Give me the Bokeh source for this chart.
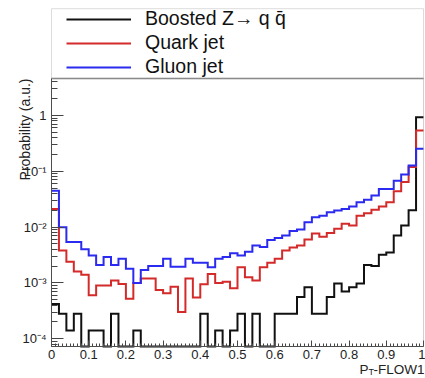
import numpy as np
from bokeh.plotting import figure
from bokeh.models import (Range1d, FixedTicker, CustomJSTickFormatter,
                          Legend, LegendItem, Label, BoxAnnotation)
from bokeh.embed import file_html
from bokeh.resources import INLINE

# ---- data: 50 bins of width 0.02 on [0, 1] ----
bin_edges = np.linspace(0.0, 1.0, 51)

boosted_z = [4.2e-4, 2.8e-4, 1.4e-4, 2.8e-4, 0, 1.4e-4, 1.4e-4, 0, 2.8e-4, 0,
             0, 1.4e-4, 0, 0, 0, 0, 0, 0, 0, 0,
             2.8e-4, 0, 1.4e-4, 0, 1.4e-4, 2.8e-4, 0, 2.8e-4, 0, 0,
             2.8e-4, 2.8e-4, 2.8e-4, 5.6e-4, 8.4e-4, 2.8e-4, 2.8e-4, 5.6e-4, 9.8e-4, 7.0e-4,
             8.4e-4, 9.8e-4, 2.1e-3, 2.0e-3, 3.2e-3, 3.5e-3, 7.1e-3, 1.07e-2, 2.0e-2, 0.93]

quark_jet = [0.021, 0.0038, 0.0024, 0.0016, 0.0014, 0.0006, 0.0009, 0.0009, 0.0011, 0.00096,
             0.00052, 0.0010, 0.0012, 0.0012, 0.00075, 0.00065, 0.00085, 0.0003, 0.0012, 0.00055,
             0.00095, 0.00145, 0.0010, 0.00105, 0.0008, 0.0019, 0.00126, 0.0011, 0.0019, 0.0023,
             0.0027, 0.0038, 0.0043, 0.0047, 0.0060, 0.0077, 0.0067, 0.0078, 0.0093, 0.0115,
             0.0107, 0.016, 0.0177, 0.0204, 0.0234, 0.028, 0.044, 0.064, 0.119, 0.54]

gluon_jet = [0.045, 0.0099, 0.0054, 0.0054, 0.0040, 0.0031, 0.0021, 0.0029, 0.0021, 0.0027,
             0.0018, 0.0010, 0.0017, 0.0020, 0.0020, 0.0027, 0.00195, 0.00195, 0.0027, 0.0023,
             0.0023, 0.0019, 0.0027, 0.0029, 0.0034, 0.0031, 0.0036, 0.0047, 0.0044, 0.0059,
             0.0064, 0.0071, 0.0085, 0.0091, 0.0122, 0.015, 0.016, 0.0184, 0.0198, 0.0212,
             0.0234, 0.028, 0.031, 0.037, 0.048, 0.048, 0.068, 0.088, 0.127, 0.253]

series_names = ["Boosted Z\u2192 q q\u0304", "Quark jet", "Gluon jet"]
series_colors = ["#111111", "#d42a2a", "#2a2af0"]

x_tick_values = [0.0, 0.1, 0.2, 0.3, 0.4, 0.5, 0.6, 0.7, 0.8, 0.9, 1.0]
x_tick_labels = ["0", "0.1", "0.2", "0.3", "0.4", "0.5", "0.6", "0.7", "0.8", "0.9", "1"]
x_minor_values = [i / 100 for i in range(101) if i % 10]
y_tick_values = [1e-4, 1e-3, 1e-2, 1e-1, 1.0]
y_tick_labels = ["10\u207b\u2074", "10\u207b\u00b3", "10\u207b\u00b2", "10\u207b\u00b9", "1"]
y_minor_values = [m * 10.0 ** e for e in range(-5, 1) for m in range(2, 10)
                  if 7.25e-5 <= m * 10.0 ** e <= 4.0]

FONT = "Liberation Sans"
Y_AXIS_MIN = 7.25e-5     # bottom of the histogram frame
Y_AXIS_MAX = 4.6         # top of the histogram frame (legend box above)


def outline(edges, vals, floor):
    xs, ys = [], []
    for i, v in enumerate(vals):
        v = max(v, floor)
        xs += [edges[i], edges[i + 1]]
        ys += [v, v]
    return xs, ys


# canvas covers the whole picture; the axes are pinned at the histogram frame
p = figure(width=425, height=378, title=None,
           x_range=Range1d(-0.1371, 1.0054), y_range=Range1d(1.936e-5, 115.0),
           y_axis_type="log", output_backend="svg", toolbar_location=None,
           min_border=0)
p.grid.visible = False
p.outline_line_color = None
p.background_fill_color = "white"
p.border_fill_color = "white"

renderers = []
for vals, col in zip([boosted_z, quark_jet, gluon_jet], series_colors):
    xs, ys = outline(bin_edges, vals, Y_AXIS_MIN)
    r = p.line(xs, ys, line_color=col, line_width=2, line_join="miter")
    renderers.append(r)

# legend box and histogram frame
p.add_layout(BoxAnnotation(left=0, right=1, bottom=Y_AXIS_MAX, top=82.0, fill_alpha=0,
                           line_color="#8a8a8a", line_width=1))
p.add_layout(BoxAnnotation(left=0, right=1, bottom=Y_AXIS_MIN, top=Y_AXIS_MAX, fill_alpha=0,
                           line_color="#666666", line_width=1))
p.add_layout(BoxAnnotation(left=0, right=1, bottom=Y_AXIS_MAX, top=Y_AXIS_MAX, fill_alpha=0,
                           line_color="#222222", line_width=2))

legend = Legend(items=[LegendItem(label=n, renderers=[r]) for n, r in zip(series_names, renderers)],
                location=(66, 300), orientation="vertical", padding=0, spacing=1, margin=0,
                glyph_width=65, glyph_height=22, label_height=22, label_standoff=14,
                label_text_font=FONT, label_text_font_size="19.5px", label_text_color="#111111",
                border_line_alpha=0, background_fill_alpha=0)
p.add_layout(legend)

# axes
xa, ya = p.xaxis[0], p.yaxis[0]
xa.fixed_location = Y_AXIS_MIN
ya.fixed_location = 0
xa.bounds = (0, 1)
ya.bounds = (Y_AXIS_MIN, Y_AXIS_MAX)
xa.ticker = FixedTicker(ticks=x_tick_values, minor_ticks=x_minor_values)
xa.formatter = CustomJSTickFormatter(args=dict(vals=x_tick_values, labs=x_tick_labels), code="""
    for (let i = 0; i < vals.length; i++) { if (Math.abs(tick - vals[i]) < 1e-6) return labs[i]; }
    return "";
""")
ya.ticker = FixedTicker(ticks=y_tick_values, minor_ticks=y_minor_values)
ya.formatter = CustomJSTickFormatter(args=dict(vals=y_tick_values, labs=y_tick_labels), code="""
    for (let i = 0; i < vals.length; i++) { if (Math.abs(Math.log10(tick) - Math.log10(vals[i])) < 1e-6) return labs[i]; }
    return "";
""")
for ax in (xa, ya):
    ax.axis_line_color = "#444444"
    ax.major_tick_line_color = "#444444"
    ax.minor_tick_line_color = "#444444"
    ax.major_tick_out = 0
    ax.minor_tick_out = 0
    ax.major_label_text_font = FONT
    ax.major_label_text_font_size = "13px"
    ax.major_label_text_color = "#222222"
xa.major_tick_in = 6
xa.minor_tick_in = 3
xa.major_label_standoff = 3
ya.major_tick_in = 12
ya.minor_tick_in = 6
ya.major_label_standoff = 5

# axis titles (ROOT style, aligned to the axis end)
p.add_layout(Label(x=24, y=300, x_units="screen", y_units="screen", text="Probability (a.u.)",
                   angle=np.pi / 2, text_align="right", text_baseline="alphabetic",
                   text_font=FONT, text_font_size="14px", text_color="#222222"))
p.add_layout(Label(x=359, y=9, x_units="screen", y_units="screen", text="P",
                   text_align="left", text_baseline="alphabetic",
                   text_font=FONT, text_font_size="13.5px", text_color="#222222"))
p.add_layout(Label(x=368, y=6.5, x_units="screen", y_units="screen", text="T",
                   text_align="left", text_baseline="alphabetic",
                   text_font=FONT, text_font_size="9px", text_color="#222222"))
p.add_layout(Label(x=373, y=9, x_units="screen", y_units="screen", text="-FLOW1",
                   text_align="left", text_baseline="alphabetic",
                   text_font=FONT, text_font_size="13.5px", text_color="#222222"))

open("out.html", "w").write(file_html(p, INLINE))
